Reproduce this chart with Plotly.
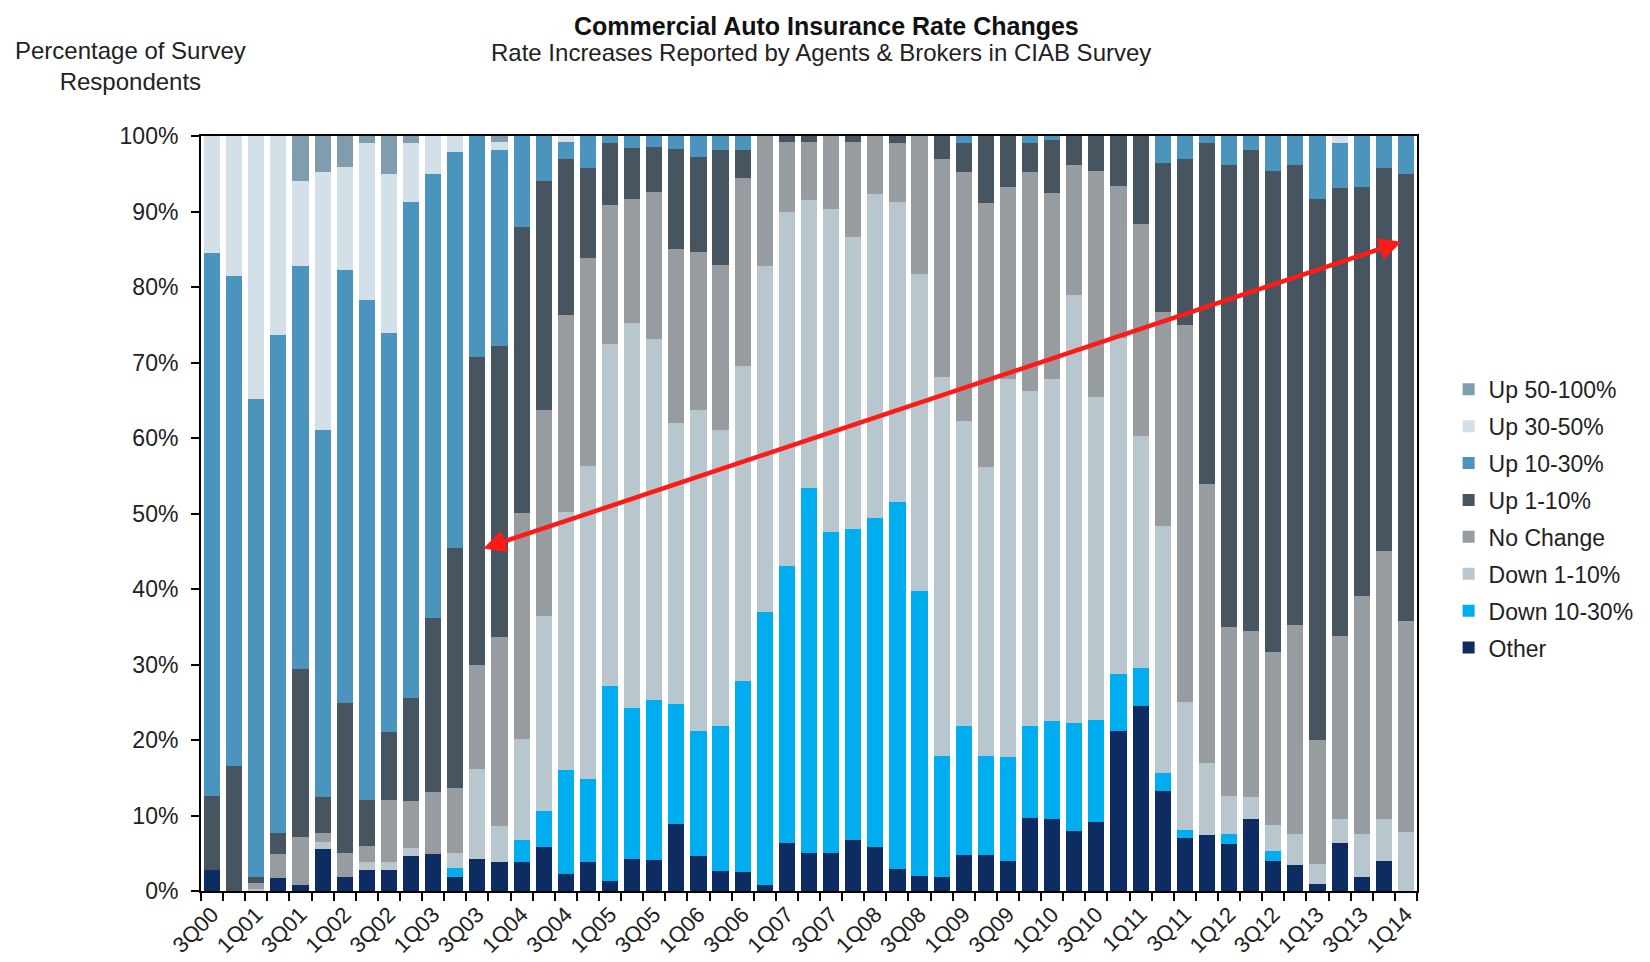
import plotly.graph_objects as go

quarters = ["3Q00","4Q00","1Q01","2Q01","3Q01","4Q01","1Q02","2Q02","3Q02","4Q02",
            "1Q03","2Q03","3Q03","4Q03","1Q04","2Q04","3Q04","4Q04","1Q05","2Q05",
            "3Q05","4Q05","1Q06","2Q06","3Q06","4Q06","1Q07","2Q07","3Q07","4Q07",
            "1Q08","2Q08","3Q08","4Q08","1Q09","2Q09","3Q09","4Q09","1Q10","2Q10",
            "3Q10","4Q10","1Q11","2Q11","3Q11","4Q11","1Q12","2Q12","3Q12","4Q12",
            "1Q13","2Q13","3Q13","4Q13","1Q14"]

other = [2.8,0,0,1.7,0.8,5.6,1.9,2.8,2.8,4.7,
         4.9,1.9,4.3,3.9,3.8,5.8,2.3,3.8,1.3,4.3,
         4.1,8.9,4.7,2.6,2.5,0.8,6.3,5.0,5.0,6.8,
         5.8,2.9,2.0,1.9,4.8,4.8,4.0,9.7,9.5,7.9,
         9.2,21.2,24.5,13.2,7.0,7.4,6.2,9.6,4.0,3.4,
         0.95,6.3,1.8,4.0,0]
down10_30 = [0,0,0,0,0,0,0,0,0,0,
             0,1.1,0,0,3.0,4.8,13.7,11.0,25.8,19.9,
             21.2,15.9,16.55,19.2,25.25,36.1,36.8,48.4,42.6,41.1,
             43.6,48.6,37.7,16.0,17.0,13.1,13.8,12.1,13.0,14.4,
             13.4,7.55,5.0,2.4,1.1,0,1.4,0,1.3,0,
             0,0,0,0,0]
down1_10 = [0,0,0.3,0,0,0.9,0,1.0,1.1,1.0,
            0,2.0,11.9,4.7,13.3,25.8,34.25,41.45,45.3,51.05,
            47.8,37.2,42.5,39.3,41.75,45.9,46.8,38.1,42.7,38.7,
            42.9,39.7,42.0,50.2,40.5,38.2,50.0,44.4,45.3,56.7,
            42.8,44.5,30.75,32.8,17.0,9.5,5.0,2.9,3.5,4.1,
            2.6,3.3,5.8,5.6,7.8]
no_change = [0,0,0.7,3.2,6.3,1.2,3.2,2.1,8.2,6.2,
             8.2,8.6,13.7,25.0,30.0,27.35,26.0,27.65,18.5,16.45,
             19.5,23.1,20.85,21.8,25.0,17.2,9.3,7.7,9.7,12.6,
             7.7,7.9,18.3,28.8,32.95,35.0,25.45,29.05,24.7,17.2,
             30.0,20.15,28.15,28.3,49.9,37.0,22.4,21.9,22.8,27.75,
             16.45,24.2,31.5,35.5,28.0]
up1_10 = [9.8,16.5,0.9,2.8,22.3,4.7,19.8,6.1,9.0,13.7,
          23.0,31.8,40.85,38.6,37.8,30.35,20.75,11.85,8.2,6.7,
          6.0,13.15,12.6,15.2,3.6,0,0.8,0.8,0,0.8,
          0,0.9,0,3.1,3.85,8.9,6.75,3.85,7.0,3.8,
          4.6,6.6,11.6,19.7,22.0,45.2,61.2,63.7,63.8,60.95,
          71.7,59.3,54.2,50.7,59.2]
up10_30 = [71.9,65.0,63.2,65.9,53.35,48.7,57.4,66.25,52.8,65.6,
           58.9,52.5,29.25,26.0,12.1,5.9,2.2,4.25,0.9,1.6,
           1.4,1.75,2.8,1.9,1.9,0,0,0,0,0,
           0,0,0,0,0.9,0,0,0.9,0.5,0,
           0,0,0,3.6,3.0,0.9,3.8,1.9,4.6,3.8,
           8.3,6.0,6.7,4.2,5.0]
up30_50 = [15.5,18.5,34.9,26.4,11.25,34.15,13.6,20.85,21.1,7.9,
           5.0,2.1,0,1.0,0,0,0.8,0,0,0,
           0,0,0,0,0,0,0,0,0,0,
           0,0,0,0,0,0,0,0,0,0,
           0,0,0,0,0,0,0,0,0,0,
           0,0.9,0,0,0]
up50_100 = [0,0,0,0,6.0,4.75,4.1,0.9,5.0,0.9,
            0,0,0,0.8,0,0,0,0,0,0,
            0,0,0,0,0,0,0,0,0,0,
            0,0,0,0,0,0,0,0,0,0,
            0,0,0,0,0,0,0,0,0,0,
            0,0,0,0,0]

series_names = ["Other","Down 10-30%","Down 1-10%","No Change","Up 1-10%","Up 10-30%","Up 30-50%","Up 50-100%"]
series_values = [other, down10_30, down1_10, no_change, up1_10, up10_30, up30_50, up50_100]
series_colors = ["#0D2D62","#00AEEF","#B8C7CE","#979CA1","#475560","#4A94BE","#D3E0E8","#7F9DAC"]

# arrow endpoints (category index, percent)
arrow_start = (12.2, 45.3)
arrow_end = (53.8, 86.0)

tick_text = [q if i % 2 == 0 else "" for i, q in enumerate(quarters)]

FONT = "Liberation Sans, Arial, sans-serif"

fig = go.Figure()
n = len(series_names)
for i, (name, vals, col) in enumerate(zip(series_names, series_values, series_colors)):
    fig.add_trace(go.Bar(x=quarters, y=vals, name=name, legendgroup=name,
                         legendrank=100 + (n - i),
                         marker=dict(color=col, line=dict(width=0))))

fig.update_layout(
    width=1650, height=962,
    barmode="stack", bargap=0.27,
    paper_bgcolor="white", plot_bgcolor="white",
    margin=dict(l=193, r=241, t=128, b=76),
    font=dict(family=FONT, size=23, color="#222222"),
    showlegend=True,
    legend=dict(traceorder="grouped", tracegroupgap=4,
                x=1.026, xanchor="left", y=0.493, yanchor="middle",
                font=dict(size=23, color="#222222"), itemwidth=30),
    xaxis=dict(type="category", tickvals=quarters, ticktext=tick_text,
               tickangle=-45, tickson="boundaries", ticks="outside", ticklen=8,
               tickcolor="black", tickwidth=1.5,
               showline=True, linecolor="black", linewidth=2, mirror=True,
               showgrid=False, tickfont=dict(size=22), range=[-0.5, 54.5]),
    yaxis=dict(range=[0, 100], dtick=10, ticksuffix="%", ticks="outside", ticklen=8,
               tickcolor="black", tickwidth=1.5, ticklabelstandoff=8,
               showline=True, linecolor="black", linewidth=2, mirror=True,
               showgrid=False, tickfont=dict(size=23), zeroline=False),
)

fig.add_annotation(x=arrow_end[0], y=arrow_end[1], ax=arrow_start[0], ay=arrow_start[1],
                   xref="x", yref="y", axref="x", ayref="y", text="",
                   showarrow=True, arrowhead=2, startarrowhead=2, arrowside="end+start",
                   arrowsize=1, startarrowsize=1, arrowwidth=4.5, arrowcolor="#FF1A1A")

fig.add_annotation(x=0.514, y=1.146, xref="paper", yref="paper", showarrow=False,
                   text="<b>Commercial Auto Insurance Rate Changes</b>",
                   font=dict(size=25, color="#111111"), xanchor="center", yanchor="middle")
fig.add_annotation(x=0.510, y=1.111, xref="paper", yref="paper", showarrow=False,
                   text="Rate Increases Reported by Agents &amp; Brokers in CIAB Survey",
                   font=dict(size=24, color="#222222"), xanchor="center", yanchor="middle")
fig.add_annotation(x=-0.0576, y=1.0926, xref="paper", yref="paper", showarrow=False,
                   text="Percentage of Survey<br>Respondents", align="center",
                   font=dict(size=24, color="#222222"), xanchor="center", yanchor="middle")

fig.write_html("out.html")
